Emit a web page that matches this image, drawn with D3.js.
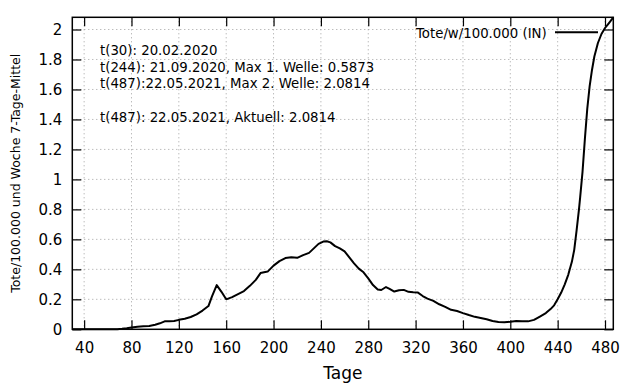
<!DOCTYPE html>
<html>
<head>
<meta charset="utf-8">
<script src="https://cdn.jsdelivr.net/npm/d3@7"></script>
<style>
  body { margin: 0; background: #fff; }
  svg { font-family: "DejaVu Sans", sans-serif; }
</style>
</head>
<body>
<script>
// days since start and deaths per week per 100.000 (7-day mean)
var days = [30, 40, 50, 60, 68, 72, 76, 80, 85, 90, 95, 100, 104, 108, 112, 116, 120, 125, 130, 135,
    140, 145, 148, 152, 156, 160, 165, 170, 175, 180, 185, 189, 195, 200, 205, 210, 215, 220, 225, 230,
    234, 238, 242, 245, 248, 252, 256, 260, 264, 268, 272, 276, 280, 284, 288, 291, 295, 298, 302, 306,
    310, 314, 318, 322, 326, 330, 335, 340, 345, 350, 355, 360, 365, 370, 375, 380, 385, 390, 395, 400,
    405, 410, 415, 420, 425, 430, 434, 437, 440, 443, 446, 449, 452, 454, 456, 458, 459, 461, 463, 465,
    467, 469, 471, 474, 477, 480, 483, 487];
var values = [0, 0, 0, 0, 0, 0.003, 0.007, 0.012, 0.017, 0.02, 0.022, 0.03, 0.04, 0.053, 0.053, 0.055, 0.063, 0.07, 0.082, 0.1,
    0.125, 0.155, 0.22, 0.295, 0.25, 0.2, 0.215, 0.235, 0.255, 0.29, 0.33, 0.375, 0.385, 0.425, 0.455, 0.475, 0.48, 0.477, 0.495, 0.51,
    0.54, 0.57, 0.585, 0.5873, 0.58, 0.555, 0.54, 0.52, 0.48, 0.44, 0.405, 0.38, 0.34, 0.295, 0.265, 0.262, 0.282, 0.27, 0.252, 0.26,
    0.263, 0.25, 0.247, 0.245, 0.222, 0.205, 0.19, 0.167, 0.15, 0.13, 0.122, 0.108, 0.095, 0.083, 0.076, 0.067, 0.055, 0.048, 0.047, 0.05,
    0.055, 0.053, 0.053, 0.063, 0.085, 0.108, 0.135, 0.16, 0.2, 0.245, 0.3, 0.365, 0.45, 0.53, 0.66, 0.8, 0.88, 1.05, 1.27, 1.47,
    1.62, 1.73, 1.82, 1.91, 1.97, 2.01, 2.04, 2.0814];

var xTicks = [40, 80, 120, 160, 200, 240, 280, 320, 360, 400, 440, 480];
var yTicks = [0, 0.2, 0.4, 0.6, 0.8, 1, 1.2, 1.4, 1.6, 1.8, 2];
var notes = ["t(30): 20.02.2020",
    "t(244): 21.09.2020, Max 1. Welle: 0.5873",
    "t(487):22.05.2021, Max 2. Welle: 2.0814",
    "",
    "t(487): 22.05.2021, Aktuell: 2.0814"];
var legendLabel = "Tote/w/100.000 (IN)";

var margin = { top: 17.3, right: 26.7, bottom: 54.7, left: 72.3 },
    width = 640 - margin.left - margin.right,
    height = 384 - margin.top - margin.bottom;

var svg = d3.select("body").append("svg")
    .attr("width", 640)
    .attr("height", 384);

var g = svg.append("g")
    .attr("transform", "translate(" + margin.left + "," + margin.top + ")");

var x = d3.scaleLinear().domain([30, 487]).range([0, width]);
var y = d3.scaleLinear().domain([0, 2.0814]).range([height, 0]);

// dotted grid
g.append("g").selectAll("line")
    .data(xTicks).enter().append("line")
    .attr("x1", function (d) { return x(d); })
    .attr("x2", function (d) { return x(d); })
    .attr("y1", 0).attr("y2", height)
    .attr("stroke", "#a0a0a0").attr("stroke-width", 1)
    .attr("stroke-dasharray", "1,3");
g.append("g").selectAll("line")
    .data(yTicks.slice(1)).enter().append("line")
    .attr("x1", 0).attr("x2", width)
    .attr("y1", function (d) { return y(d); })
    .attr("y2", function (d) { return y(d); })
    .attr("stroke", "#a0a0a0").attr("stroke-width", 1)
    .attr("stroke-dasharray", "1,3");

// axes with inward ticks, mirrored on top and right
var fmt = function (d) { return String(d); };
var axBottom = g.append("g").attr("transform", "translate(0," + height + ")")
    .call(d3.axisBottom(x).tickValues(xTicks).tickSizeInner(-9).tickSizeOuter(0).tickPadding(13).tickFormat(fmt));
var axLeft = g.append("g")
    .call(d3.axisLeft(y).tickValues(yTicks).tickSizeInner(-9).tickSizeOuter(0).tickPadding(10).tickFormat(fmt));
var axTop = g.append("g")
    .call(d3.axisTop(x).tickValues(xTicks).tickSizeInner(-9).tickSizeOuter(0).tickFormat(""));
var axRight = g.append("g").attr("transform", "translate(" + width + ",0)")
    .call(d3.axisRight(y).tickValues(yTicks).tickSizeInner(-9).tickSizeOuter(0).tickFormat(""));

[axBottom, axLeft, axTop, axRight].forEach(function (a) {
    a.select(".domain").remove();
    a.selectAll(".tick line").attr("stroke", "#000").attr("stroke-width", 1.2);
    a.selectAll("text").attr("fill", "#000").style("font-size", "15px")
        .style("font-family", "DejaVu Sans, sans-serif");
});

// frame
g.append("rect")
    .attr("width", width).attr("height", height)
    .attr("fill", "none").attr("stroke", "#000").attr("stroke-width", 1.5);

// the curve
var line = d3.line()
    .x(function (d, i) { return x(days[i]); })
    .y(function (d) { return y(d); });

g.append("path")
    .datum(values)
    .attr("d", line)
    .attr("fill", "none")
    .attr("stroke", "#000")
    .attr("stroke-width", 2)
    .attr("stroke-linejoin", "round");

// notes
g.append("g").selectAll("text")
    .data(notes).enter().append("text")
    .attr("x", 100 - margin.left)
    .attr("y", function (d, i) { return 55 - margin.top + i * 16.7; })
    .style("font-size", "13.3px")
    .attr("fill", "#000")
    .text(function (d) { return d; });

// legend
g.append("text")
    .attr("x", 546.7 - margin.left).attr("y", 38 - margin.top)
    .attr("text-anchor", "end")
    .style("font-size", "13.3px")
    .text(legendLabel);
g.append("line")
    .attr("x1", 555 - margin.left).attr("x2", 598 - margin.left)
    .attr("y1", 32.3 - margin.top).attr("y2", 32.3 - margin.top)
    .attr("stroke", "#000").attr("stroke-width", 2);

// axis titles
svg.append("text")
    .attr("x", margin.left + width / 2).attr("y", 379)
    .attr("text-anchor", "middle")
    .style("font-size", "17px")
    .text("Tage");
svg.append("text")
    .attr("transform", "translate(20," + (margin.top + height / 2) + ") rotate(-90)")
    .attr("text-anchor", "middle")
    .style("font-size", "12.5px")
    .text("Tote/100.000 und Woche 7-Tage-Mittel");
</script>
</body>
</html>
